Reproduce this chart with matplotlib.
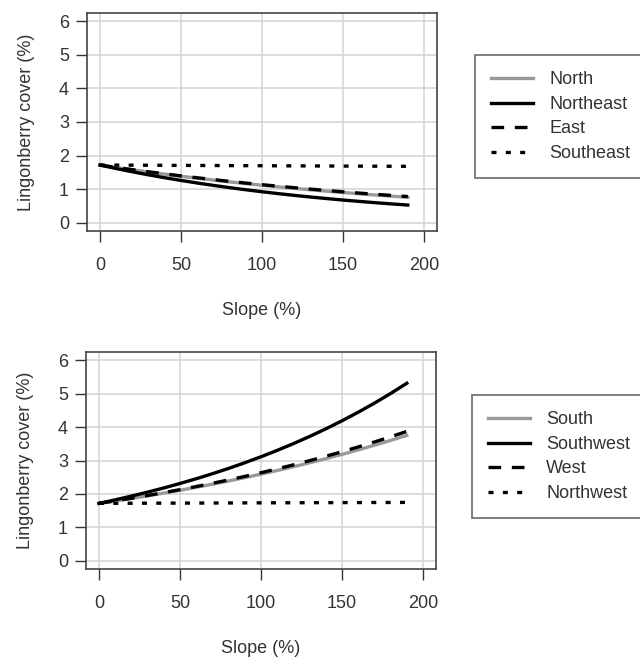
import numpy as np
import matplotlib
matplotlib.use("Agg")
import matplotlib.pyplot as plt

# slope values (%) where the fitted curves are read
slope = [0, 10, 20, 30, 40, 50, 60, 70, 80, 90, 100,
         110, 120, 130, 140, 150, 160, 170, 180, 190]

# top panel: north to southeast
north = [1.72, 1.648, 1.579, 1.512, 1.449, 1.388, 1.330, 1.274, 1.220, 1.169, 1.120,
         1.073, 1.028, 0.985, 0.943, 0.904, 0.866, 0.829, 0.795, 0.761]
northeast = [1.72, 1.617, 1.520, 1.429, 1.343, 1.263, 1.187, 1.116, 1.049, 0.986, 0.927,
             0.871, 0.819, 0.770, 0.724, 0.680, 0.640, 0.601, 0.565, 0.531]
east = [1.72, 1.650, 1.583, 1.519, 1.458, 1.399, 1.342, 1.288, 1.235, 1.185, 1.137,
        1.091, 1.047, 1.005, 0.964, 0.925, 0.887, 0.851, 0.817, 0.784]
southeast = [1.720, 1.718, 1.716, 1.714, 1.712, 1.710, 1.708, 1.706, 1.704, 1.702, 1.700,
             1.698, 1.696, 1.694, 1.692, 1.690, 1.688, 1.686, 1.684, 1.682]

# bottom panel: south to northwest
south = [1.72, 1.792, 1.867, 1.945, 2.027, 2.112, 2.200, 2.292, 2.388, 2.488, 2.593,
         2.701, 2.814, 2.932, 3.055, 3.183, 3.317, 3.456, 3.600, 3.751]
southwest = [1.72, 1.825, 1.937, 2.055, 2.180, 2.314, 2.455, 2.605, 2.764, 2.933, 3.112,
             3.302, 3.504, 3.718, 3.945, 4.186, 4.442, 4.713, 5.001, 5.307]
west = [1.72, 1.795, 1.873, 1.955, 2.040, 2.129, 2.222, 2.319, 2.420, 2.525, 2.635,
        2.750, 2.870, 2.995, 3.126, 3.262, 3.405, 3.553, 3.708, 3.870]
northwest = [1.720, 1.722, 1.723, 1.725, 1.726, 1.728, 1.729, 1.731, 1.732, 1.734, 1.735,
             1.737, 1.738, 1.740, 1.741, 1.743, 1.744, 1.746, 1.747, 1.749]

top_labels = ["North", "Northeast", "East", "Southeast"]
bottom_labels = ["South", "Southwest", "West", "Northwest"]

x_ticks = [0, 50, 100, 150, 200]
y_ticks = [0, 1, 2, 3, 4, 5, 6]

plt.rcParams['font.family'] = ['Liberation Sans', 'DejaVu Sans']
text_col = "#333333"

fig = plt.figure(figsize=(6.4, 6.59), dpi=100)

# axes boxes placed like the R layout
ax_top = fig.add_axes([87 / 640, 1 - 231 / 659, 350 / 640, 218 / 659])
ax_bot = fig.add_axes([86 / 640, 1 - 569 / 659, 350 / 640, 217 / 659])

# line styles: gray solid, black solid, dashed, dotted
styles = [dict(color="#999999", ls="-"),
          dict(color="black", ls="-"),
          dict(color="black", ls=(0, (3.8, 3.2))),
          dict(color="black", ls=(0, (1.5, 2.8)))]


def draw_panel(ax, series, labels, legend_pos):
    for ys, lab, st in zip(series, labels, styles):
        ax.plot(slope, ys, color=st["color"], linestyle=st["ls"], linewidth=2.4,
                label=lab, zorder=3)
    ax.set_xlim(-8, 208)
    ax.set_ylim(-0.24, 6.24)
    ax.set_xticks(x_ticks)
    ax.set_yticks(y_ticks)
    ax.grid(True, color="#d3d3d3", linewidth=1.1, zorder=0)
    ax.tick_params(direction="out", length=8, width=1, labelsize=13,
                   colors=text_col)
    ax.tick_params(axis="x", pad=11)
    ax.tick_params(axis="y", pad=5)
    for sp in ax.spines.values():
        sp.set_color("#444444")
        sp.set_linewidth(1.2)
    ax.set_xlabel("Slope (%)", fontsize=13, color=text_col, labelpad=20)
    ax.set_ylabel("Lingonberry cover (%)", fontsize=13, color=text_col, labelpad=17)

    # legend box at the right of the panel
    handles, labs = ax.get_legend_handles_labels()
    leg = fig.legend(handles, labs, loc="upper left",
                     bbox_to_anchor=(legend_pos[0] / 640, 1 - legend_pos[1] / 659),
                     fontsize=13, frameon=True, fancybox=False,
                     handlelength=2.3, handletextpad=0.9, labelspacing=0.42,
                     borderpad=0.9, borderaxespad=0, labelcolor=text_col)
    leg.get_frame().set_edgecolor("#444444")
    leg.get_frame().set_linewidth(1.2)


draw_panel(ax_top, [north, northeast, east, southeast], top_labels, (475, 55))
draw_panel(ax_bot, [south, southwest, west, northwest], bottom_labels, (472, 395))

fig.savefig("out.png", dpi=100)
